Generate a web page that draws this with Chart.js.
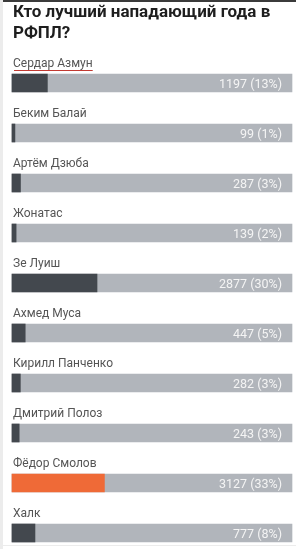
<!DOCTYPE html>
<html><head><meta charset="utf-8">
<script src="https://cdn.jsdelivr.net/npm/chart.js@4/dist/chart.umd.min.js"></script>
<style>
html,body{margin:0;padding:0;background:#fff;}
#wrap{position:relative;width:296px;height:549px;overflow:hidden;background:#fff;}
#topbar{position:absolute;left:0;top:0;width:296px;height:2px;background:#3b3b3b;}
#leftbar{position:absolute;left:0;top:0;width:3px;height:549px;background:#ececec;}
#botbar{position:absolute;left:0;top:545px;width:296px;height:1px;background:#ececec;}
#title{position:absolute;left:13px;top:1px;width:280px;font:bold 17px Roboto, sans-serif;line-height:21px;color:#1e1e1e;}
canvas{position:absolute;left:0;top:0;}
</style></head>
<body><div id="wrap">
<canvas id="c" width="296" height="549"></canvas>
<div id="topbar"></div><div id="leftbar"></div><div id="botbar"></div>
<div id="title">Кто лучший нападающий года в РФПЛ?</div>
</div>
<script>
const names = ["Сердар Азмун","Беким Балай","Артём Дзюба","Жонатас","Зе Луиш","Ахмед Муса","Кирилл Панченко","Дмитрий Полоз","Фёдор Смолов","Халк"];
const votes = [1197, 99, 287, 139, 2877, 447, 282, 243, 3127, 777];
const percents = [13, 1, 3, 2, 30, 5, 3, 3, 33, 8];

const total = votes.reduce((a,b)=>a+b,0);
const maxV = Math.max(...votes);
const fillColors = votes.map(v => v === maxV ? '#ef6a37' : '#43484e');

const labelPlugin = {
  id:'labels',
  afterDatasetsDraw(chart){
    const ctx = chart.ctx;
    const meta = chart.getDatasetMeta(1);
    ctx.save();
    meta.data.forEach((bar,i)=>{
      const top = bar.y - bar.height/2;
      const left = bar.base;
      const right = bar.x;
      ctx.font = '12px Roboto, sans-serif';
      ctx.fillStyle = '#555';
      ctx.textAlign = 'left';
      ctx.textBaseline = 'alphabetic';
      ctx.fillText(names[i], left + 1, top - 7);
      if (i === 0) {
        const w = ctx.measureText(names[i]).width;
        ctx.fillStyle = '#c23a32';
        ctx.fillRect(left + 2, top - 4, w - 1, 1);
      }
      ctx.font = '12.5px Roboto, sans-serif';
      ctx.fillStyle = '#f4f4f4';
      ctx.textAlign = 'right';
      ctx.fillText(votes[i] + ' (' + percents[i] + '%)', right - 10, bar.y + 4.5);
    });
    ctx.restore();
  }
};

new Chart(document.getElementById('c'), {
  type:'bar',
  data:{
    labels:names,
    datasets:[
      {data:votes, backgroundColor:fillColors, barThickness:18, grouped:false, clip:false},
      {data:votes.map(()=>total), backgroundColor:'#b1b5bb', barThickness:18, grouped:false, clip:false}
    ]
  },
  options:{
    indexAxis:'y',
    responsive:false,
    animation:false,
    events:[],
    layout:{padding:{left:12,right:4,top:83,bottom:16}},
    scales:{
      x:{display:false,min:0,max:total},
      y:{display:false,offset:false}
    },
    plugins:{legend:{display:false},tooltip:{enabled:false},title:{display:false}}
  },
  plugins:[labelPlugin]
});
</script>
</body></html>
